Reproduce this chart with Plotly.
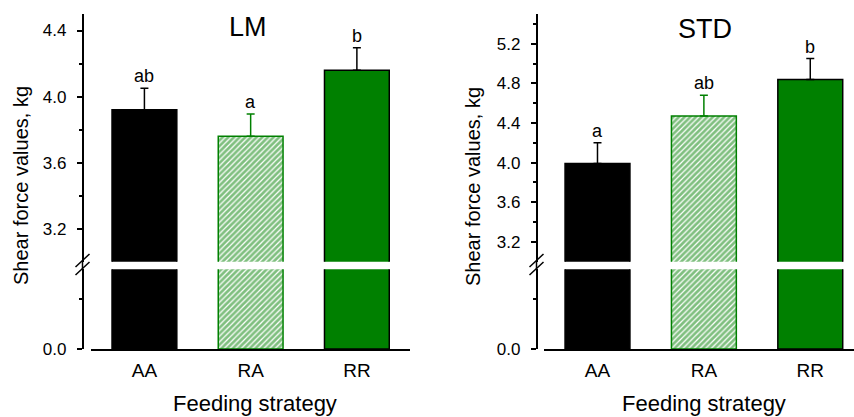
import plotly.graph_objects as go

categories = ["AA", "RA", "RR"]
lm_mean = [3.92, 3.76, 4.16]
lm_err = [0.13, 0.135, 0.135]
std_mean = [3.99, 4.47, 4.84]
std_err = [0.21, 0.21, 0.21]
lm_letters = ["ab", "a", "b"]
std_letters = ["a", "ab", "b"]
lm_ticks = [3.2, 3.6, 4.0, 4.4]
lm_minor = [3.4, 3.8, 4.2]
std_ticks = [3.2, 3.6, 4.0, 4.4, 4.8, 5.2]
std_minor = [3.4, 3.8, 4.2, 4.6, 5.0, 5.4]
panel_titles = ["LM", "STD"]
y_title = "Shear force values, kg"
x_title = "Feeding strategy"

W, H = 854, 417
K = 1.0245  # vertical calibration
GREEN = "#008000"
FONT = "Liberation Sans, Arial, sans-serif"


def px(x):
    return x / W


def py(y):
    return 1 - (y * K) / H


fills = ["black", "white", GREEN]
outlines = ["black", GREEN, "black"]
patterns = ["", "/", ""]
errcol = ["black", GREEN, "black"]

panels = [
    dict(mean=lm_mean, err=lm_err, letters=lm_letters, x="x", yu="y", yl="y2"),
    dict(mean=std_mean, err=std_err, letters=std_letters, x="x2", yu="y3", yl="y4"),
]

fig = go.Figure()
for p in panels:
    for i, c in enumerate(categories):
        for yax, witherr in [(p["yu"], True), (p["yl"], False)]:
            fig.add_trace(go.Bar(
                x=[i], y=[p["mean"][i]], width=0.61,
                xaxis=p["x"], yaxis=yax,
                marker=dict(color=fills[i],
                            line=dict(color=outlines[i], width=1.5),
                            pattern=dict(shape=patterns[i], fgcolor=GREEN,
                                         bgcolor="white", size=4, solidity=0.7)),
                error_y=dict(type="data", array=[p["err"][i]], arrayminus=[0],
                             symmetric=False, color=errcol[i], thickness=1.5,
                             width=4, visible=witherr),
                showlegend=False, hoverinfo="skip"))

tickfont = dict(family=FONT, size=17, color="black")
common_y = dict(showline=True, linecolor="black", linewidth=1.5, ticks="outside",
                ticklen=5, tickwidth=1.5, tickcolor="black", showgrid=False,
                zeroline=False, tickfont=tickfont, anchor="free", ticklabelstandoff=7)
common_x = dict(showline=True, linecolor="black", linewidth=2, ticks="",
                showgrid=False, zeroline=False, tickvals=[0, 1, 2],
                ticktext=categories, ticklabelstandoff=3,
                tickfont=dict(family=FONT, size=19, color="black"))
minor_style = dict(ticks="outside", ticklen=3, tickwidth=1.5, tickcolor="black")

axis_x = [82.5, 536.5]
TOP, UB, LT, ZERO = 14, 261.7, 269.3, 349

fig.update_layout(
    width=W, height=H, margin=dict(l=0, r=0, t=0, b=0),
    plot_bgcolor="white", paper_bgcolor="white", barmode="overlay",
    xaxis=dict(domain=[px(91.3), px(410)], range=[-0.5, 2.5], anchor="y2", **common_x),
    xaxis2=dict(domain=[px(544.3), 1.0], range=[-0.5, 2.411], anchor="y4", **common_x),
    yaxis=dict(domain=[py(UB), py(TOP)], range=[3.0, 4.5], tickvals=lm_ticks,
               ticktext=[f"{v:.1f}" for v in lm_ticks],
               minor=dict(tickvals=lm_minor, **minor_style),
               position=px(axis_x[0]), **common_y),
    yaxis2=dict(domain=[py(ZERO), py(LT)], range=[0, 1.6], tickvals=[0],
                ticktext=["0.0"], minor=dict(tickvals=[1.0], **minor_style),
                position=px(axis_x[0]), **common_y),
    yaxis3=dict(domain=[py(UB), py(TOP)], range=[3.0, 5.5], tickvals=std_ticks,
                ticktext=[f"{v:.1f}" for v in std_ticks],
                minor=dict(tickvals=std_minor, **minor_style),
                position=px(axis_x[1]), **common_y),
    yaxis4=dict(domain=[py(ZERO), py(LT)], range=[0, 1.6], tickvals=[0],
                ticktext=["0.0"], minor=dict(tickvals=[1.0], **minor_style),
                position=px(axis_x[1]), **common_y),
)

ann = []
title_pos = [(248, 27.5), (704.7, 28.7)]
ytitle_x = [21, 473]
xtitle_x = [255, 703.7]
for k, p in enumerate(panels):
    ann.append(dict(text=panel_titles[k], x=px(title_pos[k][0]), y=py(title_pos[k][1]),
                    xref="paper", yref="paper", showarrow=False, xanchor="center",
                    yanchor="middle", font=dict(family=FONT, size=27, color="black")))
    ann.append(dict(text=y_title, x=px(ytitle_x[k]), y=py(186), textangle=-90,
                    xref="paper", yref="paper", showarrow=False, xanchor="center",
                    yanchor="middle", font=dict(family=FONT, size=20, color="black")))
    ann.append(dict(text=x_title, x=px(xtitle_x[k]), y=py(403.3), xref="paper",
                    yref="paper", showarrow=False, xanchor="center", yanchor="middle",
                    font=dict(family=FONT, size=22, color="black")))
    for i in range(3):
        ann.append(dict(text=p["letters"][i], x=i, y=p["mean"][i] + p["err"][i],
                        xref=p["x"], yref=p["yu"], showarrow=False, xanchor="center",
                        yanchor="bottom", font=dict(family=FONT, size=18, color="black")))

shapes = []
for ax in axis_x:
    shapes.append(dict(type="line", xref="paper", yref="paper", x0=px(ax), x1=px(ax),
                       y0=py(UB), y1=py(LT), line=dict(color="black", width=1.5)))
    for dy in (0, 8):
        shapes.append(dict(type="line", xref="paper", yref="paper",
                           x0=px(ax - 7), y0=py(267 + dy), x1=px(ax + 7), y1=py(254 + dy),
                           line=dict(color="black", width=1.5)))

fig.update_layout(annotations=ann, shapes=shapes)
fig.write_html("out.html")
